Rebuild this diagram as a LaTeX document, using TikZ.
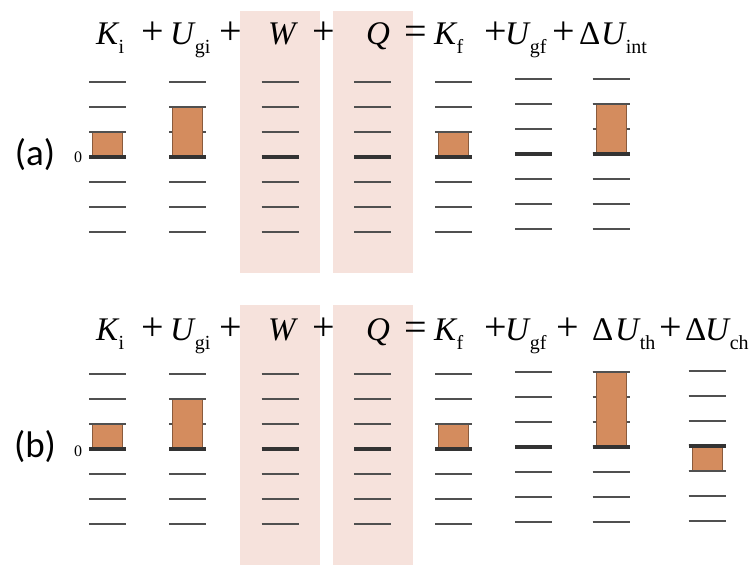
\documentclass[tikz,border=0pt]{standalone}
\usepackage{fontspec}
\setmainfont{Liberation Serif}
\newfontfamily\panelfont{Carlito}
\definecolor{bandpink}{HTML}{F6E2DC}
\definecolor{barfill}{HTML}{D48C5E}
\definecolor{lvlgray}{HTML}{505050}
\newcommand{\lo}[1]{\kern-1pt\raisebox{-9pt}{\fontsize{20}{20}\selectfont #1}}
\tikzset{
  level/.style={line width=2.1pt,lvlgray},
  zerolevel/.style={line width=3.4pt,black!80},
  barbox/.style={fill=barfill,draw=barfill!65!black,line width=0.6pt},
  band/.style={fill=bandpink,draw=none},
  term/.style={anchor=base west,inner sep=0pt,font=\fontsize{33}{33}\selectfont},
  oper/.style={anchor=base west,inner sep=0pt,font=\fontsize{40}{40}\selectfont},
  panel/.style={inner sep=0pt,font=\panelfont\fontsize{37}{37}\selectfont},
  zerolabel/.style={inner sep=0pt,font=\fontsize{16}{16}\selectfont},
}
\begin{document}
\begin{tikzpicture}[x=1pt,y=-1pt]
\useasboundingbox (0,0) rectangle (752,565);
% shaded W and Q columns
\fill[band] (240,11) rectangle (320,273);
\fill[band] (333,11) rectangle (413,273);
\fill[band] (240,305) rectangle (320,565);
\fill[band] (333,305) rectangle (413,565);
% level lines
\foreach \x/\z in {107.5/157,187.5/157,280/157,372.5/157,453.5/157,533.5/154,611/154,
                   107.5/449,187.5/449,280/449,372.5/449,453.5/449,533.5/447,611/447,707/446}{
  \foreach \k in {-3,...,3}
    \draw[level] (\x-18.5,\z+25*\k) -- ++(37,0);
  \draw[zerolevel] (\x-18.5,\z) -- ++(37,0);
}
% energy bars (column x / zero y / from level / to level)
\foreach \x/\z/\a/\b in {107.5/157/0/1,187.5/157/0/2,453.5/157/0/1,611/154/0/2,
                         107.5/449/0/1,187.5/449/0/2,453.5/449/0/1,611/447/0/3,707/446/-1/0}{
  \draw[barbox] (\x-15,\z-25*\a) rectangle (\x+15,\z-25*\b);
  \draw[level] (\x-18.5,\z-25*\a) -- ++(37,0);
  \draw[level] (\x-18.5,\z-25*\b) -- ++(37,0);
  \draw[zerolevel] (\x-18.5,\z) -- ++(37,0);
}
% panel (a)
\node[panel] (pa) at (35,155) {(a)};
\node[zerolabel] (za) at (78,157) {0};
\node[term] (kia) at (96,44) {\textit{K}\lo{i}};
\node[oper] (p1a) at (141,44) {+};
\node[term] (ugia) at (170,44) {\textit{U}\lo{gi}};
\node[oper] (p2a) at (219,44) {+};
\node[term] (wa) at (268,44) {\textit{W}};
\node[oper] (p3a) at (312,44) {+};
\node[term] (qa) at (366,44) {\textit{Q}};
\node[oper] (eqa) at (404,44) {=};
\node[term] (kfa) at (434,44) {\textit{K}\lo{f}};
\node[oper] (p4a) at (484,44) {+};
\node[term] (ugfa) at (505,44) {\textit{U}\lo{gf}};
\node[oper] (p5a) at (552,44) {+};
\node[term] (da) at (579,44) {Δ};
\node[term] (uinta) at (601,44) {\textit{U}\lo{int}};
% panel (b)
\node[panel] (pb) at (35,447) {(b)};
\node[zerolabel] (zb) at (78,451) {0};
\node[term] (kib) at (96,340) {\textit{K}\lo{i}};
\node[oper] (p1b) at (141,340) {+};
\node[term] (ugib) at (170,340) {\textit{U}\lo{gi}};
\node[oper] (p2b) at (219,340) {+};
\node[term] (wb) at (268,340) {\textit{W}};
\node[oper] (p3b) at (312,340) {+};
\node[term] (qb) at (366,340) {\textit{Q}};
\node[oper] (eqb) at (404,340) {=};
\node[term] (kfb) at (434,340) {\textit{K}\lo{f}};
\node[oper] (p4b) at (484,340) {+};
\node[term] (ugfb) at (505,340) {\textit{U}\lo{gf}};
\node[oper] (p5b) at (556,340) {+};
\node[term] (d1b) at (592,340) {Δ};
\node[term] (uthb) at (615,340) {\textit{U}\lo{th}};
\node[oper] (p6b) at (659,340) {+};
\node[term] (d2b) at (685,340) {Δ};
\node[term] (uchb) at (705,340) {\textit{U}\lo{ch}};
\end{tikzpicture}
\end{document}
